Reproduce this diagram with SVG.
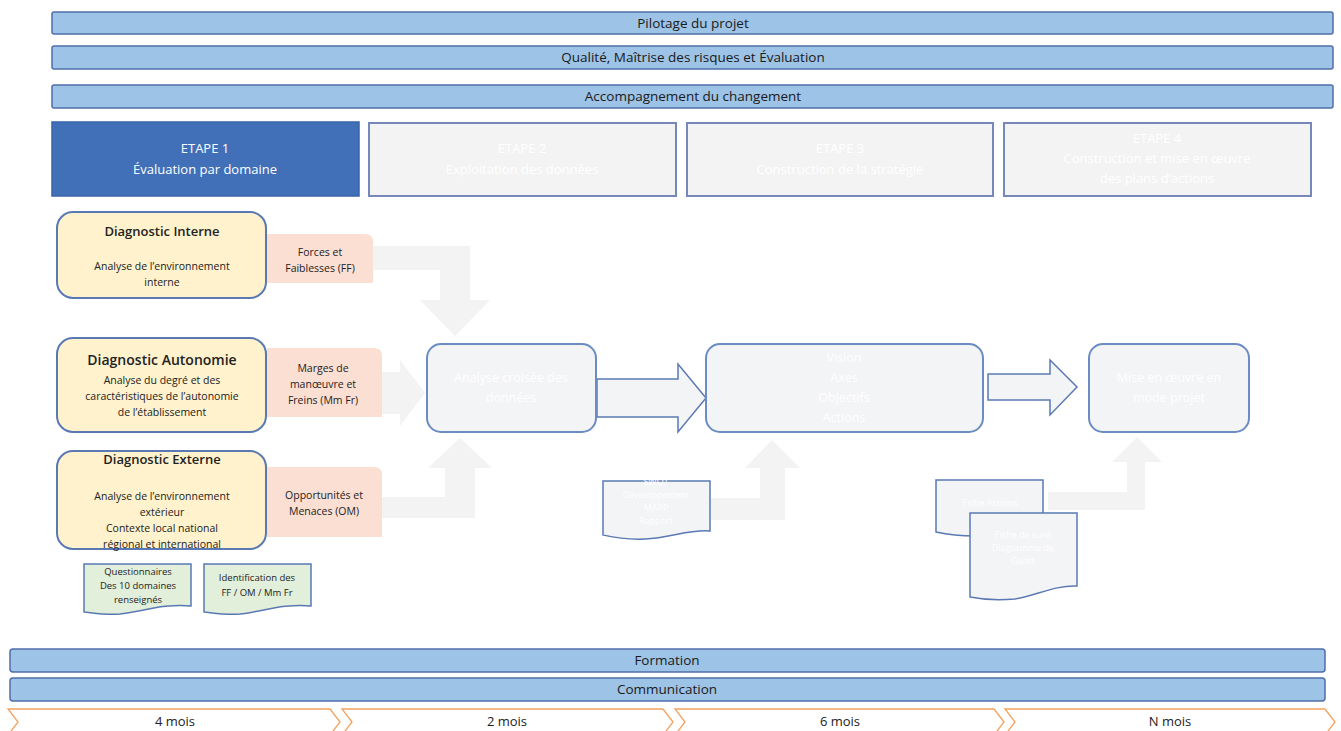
<svg xmlns="http://www.w3.org/2000/svg" width="1341" height="731" viewBox="0 0 1341 731">
<style>
.bar{fill:#9dc3e6;stroke:#4f6fa8;stroke-width:1.5}
.bt{font-family:"Open Sans","Liberation Sans",sans-serif;font-size:13.5px;fill:#1a1a1a;text-anchor:middle}
.etape{fill:#f3f3f3;stroke:#7688b8;stroke-width:2}
.et{font-family:"Open Sans","Liberation Sans",sans-serif;font-size:13px;fill:#ffffff;text-anchor:middle}
.diag{fill:#fff2cc;stroke:#5a79b4;stroke-width:2}
.dt{font-family:"Open Sans","Liberation Sans",sans-serif;font-size:13px;font-weight:600;fill:#222;text-anchor:middle}
.ds{font-family:"Open Sans","Liberation Sans",sans-serif;font-size:10.5px;fill:#222;text-anchor:middle}
.pink{fill:#fbdfd2}
.doc{fill:#e2efda;stroke:#5a79b4;stroke-width:1.5}
.gdoc{fill:#f3f4f6;stroke:#5a79b4;stroke-width:1.5}
.small{font-family:"Open Sans","Liberation Sans",sans-serif;font-size:9.5px;fill:#222;text-anchor:middle}
.box{fill:#f3f4f6;stroke:#6a8cc2;stroke-width:2}
.wt{font-family:"Open Sans","Liberation Sans",sans-serif;font-size:12.5px;fill:#ffffff;text-anchor:middle}
.wts{font-family:"Open Sans","Liberation Sans",sans-serif;font-size:9px;fill:#ffffff;text-anchor:middle}
.fade{fill:#f3f3f3}
.barrow{fill:#f3f4f6;stroke:#5a79b4;stroke-width:1.5}
.chev{fill:#ffffff;stroke:#f4a15c;stroke-width:1.3}
.ct{font-family:"Open Sans","Liberation Sans",sans-serif;font-size:13px;fill:#222;text-anchor:middle}
</style>
<rect width="1341" height="731" fill="#ffffff"/>

<g id="bar-pilotage"><rect class="bar" x="52" y="12" width="1281" height="22" rx="2"/><text class="bt" x="693" y="28">Pilotage du projet</text></g>
<g id="bar-qualite"><rect class="bar" x="52" y="46" width="1281" height="23" rx="2"/><text class="bt" x="693" y="62">Qualité, Maîtrise des risques et Évaluation</text></g>
<g id="bar-accompagnement"><rect class="bar" x="52" y="85" width="1281" height="23" rx="2"/><text class="bt" x="693" y="101">Accompagnement du changement</text></g>

<g id="etape1"><rect x="52" y="122" width="307" height="74" fill="#4170b8" stroke="#3a64a8" stroke-width="1.5"/><text class="et" x="205" y="153">ETAPE 1</text><text class="et" x="205" y="174">Évaluation par domaine</text></g>
<g id="etape2"><rect class="etape" x="369" y="123" width="307" height="73"/><text class="et" x="522" y="153">ETAPE 2</text><text class="et" x="522" y="174">Exploitation des données</text></g>
<g id="etape3"><rect class="etape" x="687" y="123" width="306" height="73"/><text class="et" x="840" y="153">ETAPE 3</text><text class="et" x="840" y="174">Construction de la stratégie</text></g>
<g id="etape4"><rect class="etape" x="1004" y="123" width="307" height="73"/><text class="et" x="1157" y="143">ETAPE 4</text><text class="et" x="1157" y="163">Construction et mise en œuvre</text><text class="et" x="1157" y="183">des plans d’actions</text></g>

<g id="connectors">
<path class="fade" d="M373,246 H470 V300 H490 L455,336 L420,300 H440 V270 H373 Z"/>
<path class="fade" d="M382,372 H400 V360 L425,393 L400,426 V414 H382 Z"/>
<path class="fade" d="M382,497 H445 V468 H428 L460,438 L492,468 H475 V518 H382 Z"/>
<path class="barrow" d="M597,379 H678 V364 L706,398 L678,432 V417 H597 Z"/>
<path class="barrow" d="M988,374 H1050 V360 L1077,387 L1050,415 V400 H988 Z"/>
<path class="fade" d="M711,498 H760 V468 H745 L772,440 L800,468 H785 V520 H711 Z"/>
<path class="fade" d="M1048,492 H1127 V462 H1112 L1137,437 L1162,462 H1145 V510 H1048 Z"/>
</g>

<g id="diag-interne"><rect class="diag" x="57" y="212" width="209" height="86" rx="16"/><text class="dt" x="162" y="236">Diagnostic Interne</text><text class="ds" x="162" y="270">Analyse de l’environnement</text><text class="ds" x="162" y="286">interne</text></g>
<g id="ff"><path class="pink" d="M267,234 H365 Q373,234 373,242 V283 H267 Z"/><text class="ds" x="320" y="256">Forces et</text><text class="ds" x="320" y="272">Faiblesses (FF)</text></g>

<g id="diag-autonomie"><rect class="diag" x="57" y="338" width="209" height="94" rx="16"/><text class="dt" x="162" y="365" style="font-size:14px">Diagnostic Autonomie</text><text class="ds" x="162" y="384">Analyse du degré et des</text><text class="ds" x="162" y="400">caractéristiques de l’autonomie</text><text class="ds" x="162" y="416">de l’établissement</text></g>
<g id="mmfr"><path class="pink" d="M267,348 H374 Q382,348 382,356 V417 H267 Z"/><text class="ds" x="323" y="372">Marges de</text><text class="ds" x="323" y="388">manœuvre et</text><text class="ds" x="323" y="404">Freins (Mm Fr)</text></g>

<g id="diag-externe"><rect class="diag" x="57" y="451" width="209" height="98" rx="16"/><text class="dt" x="162" y="464">Diagnostic Externe</text><text class="ds" x="162" y="500">Analyse de l’environnement</text><text class="ds" x="162" y="516">extérieur</text><text class="ds" x="162" y="532">Contexte local national</text><text class="ds" x="162" y="548">régional et international</text></g>
<g id="om"><path class="pink" d="M267,467 H374 Q382,467 382,475 V537 H267 Z"/><text class="ds" x="324" y="499">Opportunités et</text><text class="ds" x="324" y="515">Menaces (OM)</text></g>

<g id="doc-questionnaires"><path class="doc" d="M84,564 H191 V606 C165,603 140,612 120,614 C105,615 94,613 84,612 Z"/><text class="small" x="138" y="575">Questionnaires</text><text class="small" x="138" y="589">Des 10 domaines</text><text class="small" x="138" y="603">renseignés</text></g>
<g id="doc-identification"><path class="doc" d="M204,564 H311 V606 C285,603 260,612 240,614 C225,615 214,613 204,612 Z"/><text class="small" x="257" y="581">Identification des</text><text class="small" x="257" y="596">FF / OM / Mm Fr</text></g>

<g id="analyse-croisee"><rect class="box" x="427" y="344" width="169" height="88" rx="14"/><text class="wt" x="511" y="382">Analyse croisée des</text><text class="wt" x="511" y="402">données</text></g>
<g id="vision"><rect class="box" x="706" y="344" width="277" height="88" rx="14"/><text class="wt" x="844" y="362">Vision</text><text class="wt" x="844" y="382">Axes</text><text class="wt" x="844" y="402">Objectifs</text><text class="wt" x="844" y="422">Actions</text></g>
<g id="mise-en-oeuvre"><rect class="box" x="1089" y="344" width="160" height="88" rx="14"/><text class="wt" x="1169" y="382">Mise en œuvre en</text><text class="wt" x="1169" y="402">mode projet</text></g>

<g id="doc-swot"><path class="gdoc" d="M603,481 H710 V531 C690,529 670,538 645,539 C625,540 612,537 603,535 Z"/><text class="wts" x="656" y="485">SWOT</text><text class="wts" x="656" y="498">Développement</text><text class="wts" x="656" y="511">MAPP</text><text class="wts" x="656" y="524">Rapport</text></g>
<g id="doc-fiche-actions"><path class="gdoc" d="M936,480 H1043 V531 C1020,529 995,537 975,536 C955,536 945,534 936,532 Z"/><text class="wts" x="990" y="506">Fiche Actions</text></g>
<g id="doc-fiche-suivi"><path class="gdoc" d="M970,513 H1077 V586 C1055,585 1035,596 1015,599 C995,601 980,599 970,597 Z"/><text class="wts" x="1023" y="538">Fiche de suivi</text><text class="wts" x="1023" y="551">Diagramme de</text><text class="wts" x="1023" y="564">Gantt</text></g>

<g id="bar-formation"><rect class="bar" x="10" y="649" width="1315" height="23" rx="3"/><text class="bt" x="667" y="665">Formation</text></g>
<g id="bar-communication"><rect class="bar" x="10" y="678" width="1315" height="23" rx="3"/><text class="bt" x="667" y="694">Communication</text></g>

<g id="timeline">
<path class="chev" d="M8,709 H330 L340,722 L330,735 H8 L18,722 Z"/><text class="ct" x="175" y="726">4 mois</text>
<path class="chev" d="M342,709 H663 L673,722 L663,735 H342 L352,722 Z"/><text class="ct" x="507" y="726">2 mois</text>
<path class="chev" d="M675,709 H994 L1004,722 L994,735 H675 L685,722 Z"/><text class="ct" x="840" y="726">6 mois</text>
<path class="chev" d="M1005,709 H1325 L1335,722 L1325,735 H1005 L1015,722 Z"/><text class="ct" x="1170" y="726">N mois</text>
</g>
</svg>
